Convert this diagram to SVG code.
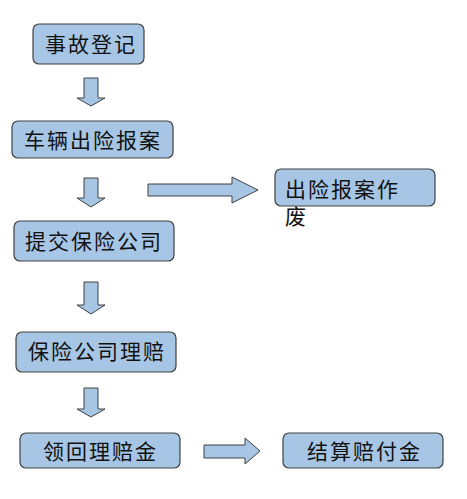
<svg xmlns="http://www.w3.org/2000/svg" width="467" height="499" viewBox="0 0 467 499">
<style>
.box{fill:#a7c6e5;stroke:#404040;stroke-width:1.2}
.arr{fill:#a7c6e5;stroke:#404040;stroke-width:1}
text{font-family:"Noto Sans CJK SC","Liberation Sans",sans-serif;font-size:21px;letter-spacing:2px;fill:#111}
</style>
<rect width="467" height="499" fill="#fff"/>
<g id="connectors">
<polygon class="arr" points="84,78 98,78 98,98 105,98 91,106 77,98 84,98"/>
<polygon class="arr" points="84,178 98,178 98,198 105,198 91,207 77,198 84,198"/>
<polygon class="arr" points="84,282 98,282 98,305 105,305 91,314 77,305 84,305"/>
<polygon class="arr" points="84,388 98,388 98,409 105,409 91,417 77,409 84,409"/>
<polygon class="arr" points="148,184 232,184 232,177 258,190 232,203 232,196 148,196"/>
<polygon class="arr" points="204,445 245,445 245,438 260,451 245,464 245,458 204,458"/>
</g>
<g id="n1"><rect class="box" x="33" y="24" width="111" height="40" rx="6"/><text x="45" y="52">事故登记</text></g>
<g id="n2"><rect class="box" x="12" y="121" width="161" height="37" rx="6"/><text x="24" y="148">车辆出险报案</text></g>
<g id="n3"><rect class="box" x="275" y="169" width="160" height="37" rx="6"/><text x="285" y="197">出险报案作</text><text x="285" y="224">废</text></g>
<g id="n4"><rect class="box" x="14" y="221" width="160" height="40" rx="6"/><text x="25" y="249">提交保险公司</text></g>
<g id="n5"><rect class="box" x="16" y="332" width="160" height="40" rx="6"/><text x="28" y="359">保险公司理赔</text></g>
<g id="n6"><rect class="box" x="20" y="433" width="160" height="35" rx="6"/><text x="43" y="459">领回理赔金</text></g>
<g id="n7"><rect class="box" x="283" y="433" width="160" height="35" rx="6"/><text x="307" y="459">结算赔付金</text></g>
</svg>
